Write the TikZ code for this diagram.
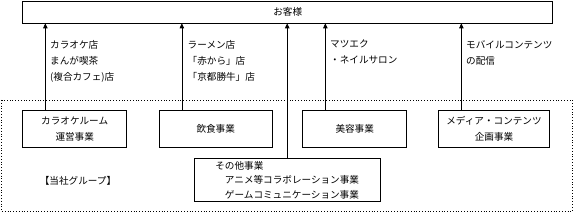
\documentclass[tikz,border=0pt]{standalone}
\usepackage{fontspec}
\setmainfont{Noto Sans CJK JP}
\usetikzlibrary{arrows.meta}
\begin{document}
\begin{tikzpicture}[x=1pt,y=-1pt,->,>={Triangle[length=5pt,width=4.5pt]},
  font=\fontsize{9.6}{16}\selectfont,
  box/.style={draw,-,line width=0.7pt,inner sep=0pt,align=center,minimum height=37.7pt},
  note/.style={anchor=north west,align=left,inner sep=0pt}]
\useasboundingbox (0,0) rectangle (575,213);
\draw[-,dotted,line width=0.8pt] (1.5,100) rectangle (572,211.5);
\node[box,minimum width=530pt,minimum height=22pt] (C) at (287.7,12) {お客様};
\node[box,minimum width=104pt] (K) at (74.7,128.8) {カラオケルーム\\運営事業};
\node[box,minimum width=113pt] (I) at (215.7,128.8) {飲食事業};
\node[box,minimum width=104pt] (B) at (354.7,128.8) {美容事業};
\node[box,minimum width=110.6pt] (M) at (494,128.8) {メディア・コンテンツ\\企画事業};
\node[box,minimum width=185.7pt,minimum height=43pt,align=left,font=\fontsize{9.6}{14.5}\selectfont] (O) at (287.2,180) {その他事業\\\hspace{1em}アニメ等コラボレーション事業\\\hspace{1em}ゲームコミュニケーション事業};
\node (G) at (78,181) {【当社グループ】};
\node[note] (KT) at (50,40) {カラオケ店\\まんが喫茶\\(複合カフェ)店};
\node[note] (IT) at (187.5,40) {ラーメン店\\「赤から」店\\「京都勝牛」店};
\node[note] (BT) at (330,40) {マツエク\\・ネイルサロン};
\node[note] (MT) at (466,40) {モバイルコンテンツ\\の配信};
\draw[line width=0.7pt] ([xshift=23pt]K.north west) -- ([xshift=23pt]K.north west |- C.south);
\draw[line width=0.7pt] ([xshift=23pt]I.north west) -- ([xshift=23pt]I.north west |- C.south);
\draw[line width=0.7pt] ([xshift=23pt]B.north west) -- ([xshift=23pt]B.north west |- C.south);
\draw[line width=0.7pt] ([xshift=23pt]M.north west) -- ([xshift=23pt]M.north west |- C.south);
\draw[line width=0.7pt] (O.north) -- (O.north |- C.south);
\end{tikzpicture}
\end{document}
